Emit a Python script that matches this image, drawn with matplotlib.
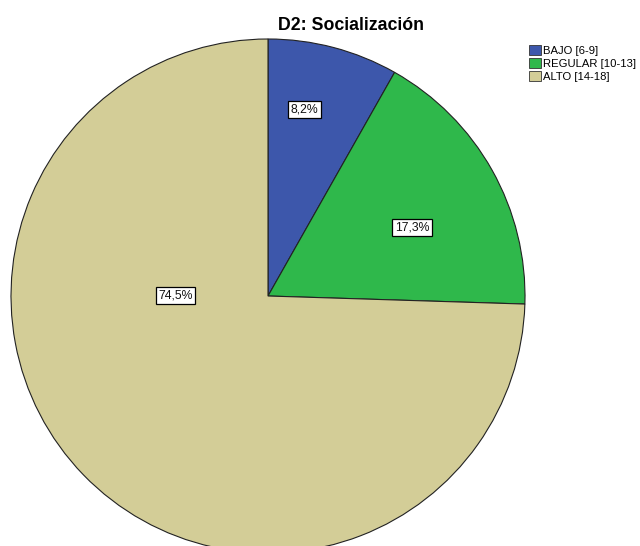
import numpy as np
import matplotlib
matplotlib.use("Agg")
import matplotlib.pyplot as plt
from matplotlib.patches import Patch

categories = ["BAJO [6-9]", "REGULAR [10-13]", "ALTO [14-18]"]
percents = [8.2, 17.3, 74.5]
pct_labels = ["8,2%", "17,3%", "74,5%"]

COLORS = ["#3d57ab", "#2fb84b", "#d3cd97"]
# where SPSS drops each label: (radius fraction, angle in degrees)
LABEL_POS = [(0.74, 79.0), (0.62, 25.3), (0.36, 179.5)]

plt.rcParams["font.family"] = ["Liberation Sans", "DejaVu Sans"]

W, H = 640, 546
cx, cy, R = 268, 296, 257

fig = plt.figure(figsize=(W / 100, H / 100), dpi=100)
ax = fig.add_axes([0, 0, 1, 1])

wedges, _ = ax.pie(percents, colors=COLORS, startangle=90, counterclock=False,
                   radius=1.0, center=(0, 0),
                   wedgeprops=dict(edgecolor="#222222", linewidth=0.8))
ax.set_xlim(-cx / R, (W - cx) / R)
ax.set_ylim(-(H - cy) / R, cy / R)
ax.set_aspect("equal")
ax.axis("off")

for txt, (rf, ang) in zip(pct_labels, LABEL_POS):
    a = np.deg2rad(ang)
    ax.text(rf * np.cos(a), rf * np.sin(a), txt, ha="center", va="center",
            fontsize=8.8, color="#111111",
            bbox=dict(boxstyle="square,pad=0.2", facecolor="white",
                      edgecolor="black", linewidth=0.9))

fig.text(351 / W, 1 - 25 / H, "D2: Socialización", ha="center", va="center",
         fontsize=12.8, fontweight="bold")

handles = [Patch(facecolor=c, edgecolor="#333333", linewidth=0.6, label=l)
           for c, l in zip(COLORS, categories)]
fig.legend(handles=handles, loc="upper left", bbox_to_anchor=(521 / W, 1 - 37 / H),
           frameon=False, fontsize=8.1, handlelength=1.1, handleheight=0.95,
           handletextpad=0.15, labelspacing=0.22, borderpad=0.2)

fig.savefig("out.png", dpi=100)
